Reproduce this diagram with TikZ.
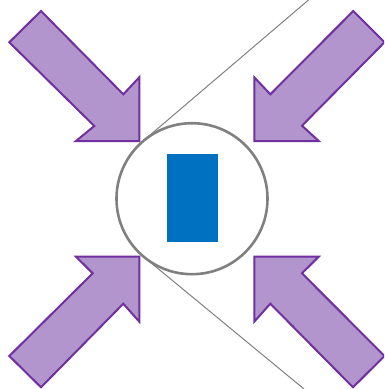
\documentclass[tikz,border=0pt]{standalone}
\definecolor{arrfill}{HTML}{B395CD}
\definecolor{arrline}{HTML}{7030A0}
\definecolor{ringgray}{HTML}{808080}
\definecolor{boxblue}{HTML}{0070C0}
\begin{document}
\begin{tikzpicture}[x=1pt,y=-1pt,
  bigarrow/.style={fill=arrfill,draw=arrline,line width=2pt,line join=miter},
  ring/.style={circle,draw=ringgray,line width=2.6pt,minimum size=151pt,inner sep=0pt},
  core/.style={rectangle,fill=boxblue,minimum width=51.3pt,minimum height=87.7pt,inner sep=0pt},
  sightline/.style={draw=ringgray,line width=1pt}]
\useasboundingbox (0,0) rectangle (384,389);
\clip (0,0) rectangle (384,389);
% converging arrows
\path[bigarrow] (41,11) -- (123.3,94.3) -- (139.3,77.3) -- (139.3,141) -- (76,141) -- (94.3,126) -- (9.3,42.3) -- cycle;
\path[bigarrow] (353.3,11) -- (270.3,94.3) -- (254.3,77.3) -- (254.3,141) -- (318.7,141) -- (302,125.7) -- (384.5,42.3) -- cycle;
\path[bigarrow] (41,387.3) -- (123.3,303.7) -- (139.3,321.7) -- (139.3,256.7) -- (76,256.7) -- (92.7,273.3) -- (9.3,356) -- cycle;
\path[bigarrow] (353,387.3) -- (270.3,303.7) -- (254.3,321.7) -- (254.3,256.7) -- (318.7,256.7) -- (302,273.3) -- (384.5,356) -- cycle;
% tangent lines
\coordinate (t1) at (143.1,141);
\coordinate (e1) at (308.5,0);
\coordinate (t2) at (143.1,256.3);
\coordinate (e2) at (304,389);
\draw[sightline] (t1) -- (e1);
\draw[sightline] (t2) -- (e2);
% circle and core
\node[ring] (c) at (192,198.7) {};
\node[core] (b) at (192.35,198.15) {};
\end{tikzpicture}
\end{document}
